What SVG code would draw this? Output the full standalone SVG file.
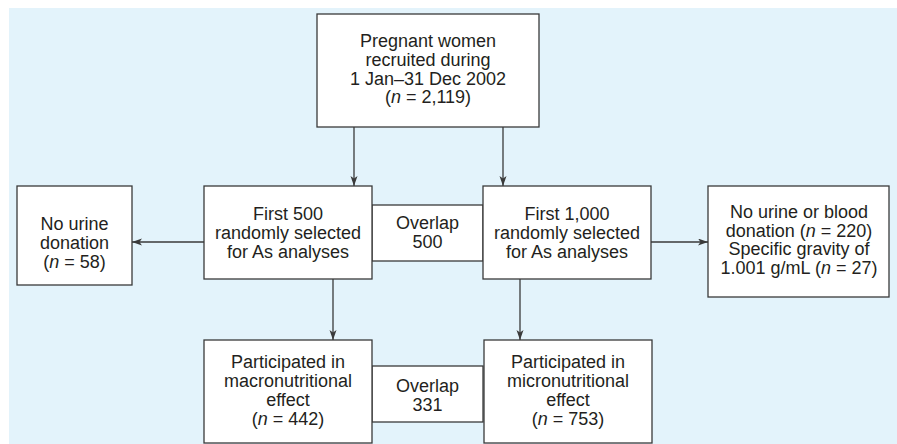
<svg xmlns="http://www.w3.org/2000/svg" width="897" height="444" viewBox="0 0 897 444">
<style>
.bx{fill:#ffffff;stroke:#3a3a3a;stroke-width:1.3}
.ln{stroke:#3a3a3a;stroke-width:1.3;fill:none}
text{font-family:"Liberation Sans",Arial,sans-serif;font-size:18px;fill:#231f20;text-anchor:middle}
.i{font-style:italic}
</style>
<defs>
<marker id="ah" markerWidth="11" markerHeight="8" refX="10" refY="3.5" orient="auto" markerUnits="userSpaceOnUse">
<path d="M0,0 L10,3.5 L0,7 L2.5,3.5 z" fill="#3a3a3a"/>
</marker>
</defs>
<rect x="9" y="8" width="888" height="436" fill="#e3f3fb"/>
<g id="connectors">
<line class="ln" x1="354" y1="127" x2="354" y2="186" marker-end="url(#ah)"/>
<line class="ln" x1="503" y1="127" x2="503" y2="186" marker-end="url(#ah)"/>
<line class="ln" x1="204" y1="242" x2="132" y2="242" marker-end="url(#ah)"/>
<line class="ln" x1="651" y1="242" x2="708" y2="242" marker-end="url(#ah)"/>
<line class="ln" x1="333" y1="279" x2="333" y2="340" marker-end="url(#ah)"/>
<line class="ln" x1="520" y1="279" x2="520" y2="340" marker-end="url(#ah)"/>
</g>
<g id="top">
<rect class="bx" x="317" y="14" width="222" height="113"/>
<text x="428" y="47">Pregnant women</text>
<text x="428" y="66">recruited during</text>
<text x="428" y="84.5">1 Jan–31 Dec 2002</text>
<text x="428" y="103">(<tspan class="i">n</tspan> = 2,119)</text>
</g>
<g id="overlap500">
<rect class="bx" x="372" y="205" width="111" height="56"/>
<text x="427.5" y="228.5">Overlap</text>
<text x="427.5" y="247.5">500</text>
</g>
<g id="first500">
<rect class="bx" x="204" y="186" width="168" height="93"/>
<text x="288" y="220">First 500</text>
<text x="288" y="239">randomly selected</text>
<text x="288" y="258">for As analyses</text>
</g>
<g id="first1000">
<rect class="bx" x="483" y="186" width="168" height="93"/>
<text x="567" y="220">First 1,000</text>
<text x="567" y="239">randomly selected</text>
<text x="567" y="258">for As analyses</text>
</g>
<g id="nourine">
<rect class="bx" x="17" y="186" width="115" height="99"/>
<text x="74.5" y="230">No urine</text>
<text x="74.5" y="249">donation</text>
<text x="74.5" y="268">(<tspan class="i">n</tspan> = 58)</text>
</g>
<g id="noblood">
<rect class="bx" x="708" y="186" width="181" height="111"/>
<text x="799" y="217.5">No urine or blood</text>
<text x="799" y="236.5">donation (<tspan class="i">n</tspan> = 220)</text>
<text x="799" y="255">Specific gravity of</text>
<text x="799" y="274">1.001 g/mL (<tspan class="i">n</tspan> = 27)</text>
</g>
<g id="overlap331">
<rect class="bx" x="372" y="366" width="111" height="56"/>
<text x="427.5" y="392">Overlap</text>
<text x="427.5" y="411">331</text>
</g>
<g id="macro">
<rect class="bx" x="204" y="340" width="168" height="103"/>
<text x="288" y="368">Participated in</text>
<text x="288" y="387">macronutritional</text>
<text x="288" y="406">effect</text>
<text x="288" y="425">(<tspan class="i">n</tspan> = 442)</text>
</g>
<g id="micro">
<rect class="bx" x="484" y="340" width="168" height="103"/>
<text x="568" y="368">Participated in</text>
<text x="568" y="387">micronutritional</text>
<text x="568" y="406">effect</text>
<text x="568" y="425">(<tspan class="i">n</tspan> = 753)</text>
</g>
</svg>
